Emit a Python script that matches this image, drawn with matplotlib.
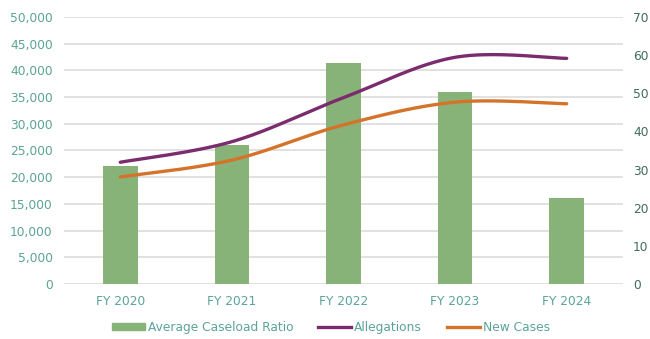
import numpy as np
import matplotlib
matplotlib.use("Agg")
import matplotlib.pyplot as plt
from matplotlib.lines import Line2D
from matplotlib.patches import Rectangle

plt.rcParams['font.family'] = ['DejaVu Sans']

years = ["FY 2020", "FY 2021", "FY 2022", "FY 2023", "FY 2024"]
caseload_ratio = [31, 36.4, 58, 50.3, 22.5]
allegations = [22800, 26650, 34900, 42450, 42250]
new_cases = [20050, 23200, 29800, 34050, 33750]

BAR_C = "#88B378"
PURPLE = "#7B2C6E"
ORANGE = "#D4732A"
GRID_C = "#DCDCDC"
LEFT_TXT = "#5BA394"
RIGHT_TXT = "#3F6B5C"
X_TXT = "#5BA39A"
FS = 8.8


def smooth(xs, ys, n=40):
    """Cubic Bezier smoothing through every point (Catmull-Rom style)."""
    xs = np.asarray(xs, float)
    ys = np.asarray(ys, float)
    px = np.concatenate([[xs[0]], xs, [xs[-1]]])
    py = np.concatenate([[ys[0]], ys, [ys[-1]]])
    outx, outy = [], []
    t = np.linspace(0, 1, n)
    for i in range(1, len(xs)):
        p0 = np.array([px[i], py[i]])
        p3 = np.array([px[i + 1], py[i + 1]])
        c1 = p0 + (np.array([px[i + 1], py[i + 1]]) - np.array([px[i - 1], py[i - 1]])) / 6
        c2 = p3 - (np.array([px[i + 2], py[i + 2]]) - np.array([px[i], py[i]])) / 6
        b = ((1 - t) ** 3)[:, None] * p0 + (3 * (1 - t) ** 2 * t)[:, None] * c1 \
            + (3 * (1 - t) * t ** 2)[:, None] * c2 + (t ** 3)[:, None] * p3
        outx.extend(b[:, 0])
        outy.extend(b[:, 1])
    return np.array(outx), np.array(outy)


fig = plt.figure(figsize=(6.5, 3.39), dpi=100)
pos = [0.0992, 0.1622, 0.8585, 0.7877]
x = np.arange(len(years))

# back layer: left scale and gridlines
ax = fig.add_axes(pos)
ax.set_xlim(-0.5, len(years) - 0.5)
ax.set_ylim(0, 50000)
ax.set_yticks(np.arange(0, 50001, 5000))
ax.set_yticklabels([f"{v:,}" for v in range(0, 50001, 5000)])
ax.yaxis.grid(True, color=GRID_C, lw=1.2)
ax.set_axisbelow(True)
ax.set_xticks(x)
ax.set_xticklabels(years)
ax.tick_params(axis='y', length=0, labelsize=FS, labelcolor=LEFT_TXT, pad=8.5)
ax.tick_params(axis='x', length=0, labelsize=FS, labelcolor=X_TXT, pad=8)
for s in ax.spines.values():
    s.set_visible(False)

# bars on the right scale
axb = ax.twinx()
axb.bar(x, caseload_ratio, width=0.31, color=BAR_C, zorder=2)
axb.set_ylim(0, 70)
axb.set_yticks(np.arange(0, 71, 10))
axb.tick_params(axis='y', length=0, labelsize=FS, labelcolor=RIGHT_TXT, pad=7.5)
for s in axb.spines.values():
    s.set_visible(False)

# lines on the left scale, drawn above the bars
axl = fig.add_axes(pos, sharex=ax, sharey=ax, frameon=False)
axl.patch.set_visible(False)
sx, sy = smooth(x, allegations)
axl.plot(sx, sy, color=PURPLE, lw=2.4, solid_capstyle='round')
sx, sy = smooth(x, new_cases)
axl.plot(sx, sy, color=ORANGE, lw=2.4, solid_capstyle='round')
axl.tick_params(left=False, bottom=False, labelleft=False, labelbottom=False)

handles = [
    Rectangle((0, 0), 1, 0.45, color=BAR_C),
    Line2D([], [], color=PURPLE, lw=2.4),
    Line2D([], [], color=ORANGE, lw=2.4),
]
labels = ["Average Caseload Ratio", "Allegations", "New Cases"]
leg = fig.legend(handles, labels, loc='center', bbox_to_anchor=(0.509, 0.035),
                 ncol=3, frameon=False, fontsize=FS, handlelength=2.7,
                 handleheight=0.5, handletextpad=0.25, columnspacing=2.0)
for t in leg.get_texts():
    t.set_color(X_TXT)

fig.savefig("out.png", dpi=100)
